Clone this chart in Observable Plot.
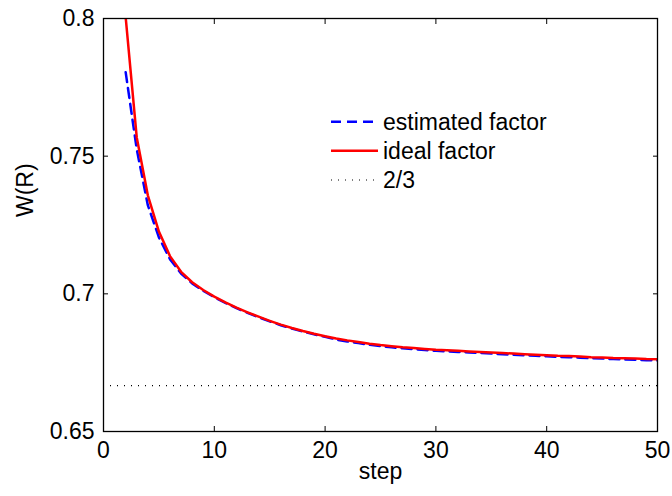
<!DOCTYPE html>
<html><head><meta charset="utf-8">
<script src="https://cdn.jsdelivr.net/npm/d3@7"></script>
<script src="https://cdn.jsdelivr.net/npm/@observablehq/plot@0.6"></script>
<style>
html,body{margin:0;padding:0;background:#fff;}
#chart{position:relative;width:672px;height:496px;}
</style></head><body><div id="chart"></div>
<script>
const steps = [2,3,4,5,6,7,8,9,10,11,12,13,14,15,16,17,18,19,20,21,22,23,24,25,26,27,28,29,30,31,32,33,34,35,36,37,38,39,40,41,42,43,44,45,46,47,48,49,50];
const idealFactor = [0.8005,0.7568,0.7358,0.7226,0.7137,0.7080,0.7042,0.7014,0.6990,0.6969,0.6950,0.6933,0.6917,0.6902,0.6888,0.6876,0.6865,0.6855,0.6846,0.6838,0.6831,0.6825,0.6819,0.6814,0.6810,0.6806,0.6803,0.6800,0.6797,0.6795,0.6793,0.6791,0.6789,0.6787,0.6785,0.6783,0.6781,0.6779,0.6777,0.6775,0.6774,0.6772,0.6770,0.6769,0.6767,0.6766,0.6765,0.6763,0.6762];
const estimatedFactor = [0.7805,0.7525,0.7322,0.7205,0.7126,0.7074,0.7038,0.7011,0.6988,0.6967,0.6948,0.6931,0.6915,0.6900,0.6886,0.6874,0.6863,0.6853,0.6844,0.6834,0.6827,0.6821,0.6815,0.6810,0.6806,0.6802,0.6799,0.6796,0.6793,0.6791,0.6789,0.6787,0.6785,0.6783,0.6781,0.6779,0.6777,0.6775,0.6773,0.6771,0.6770,0.6768,0.6766,0.6765,0.6763,0.6762,0.6761,0.6759,0.6758];
const twoThirds = [2/3];
const xTicks = [0,10,20,30,40,50];
const xTickLabels = ["0","10","20","30","40","50"];
const yTicks = [0.65,0.7,0.75,0.8];
const yTickLabels = ["0.65","0.7","0.75","0.8"];
const legendLabels = ["estimated factor","ideal factor","2/3"];
const xLabel = "step";
const yLabel = "W(R)";

const est = steps.map((s,i)=>({step:s, w:estimatedFactor[i]}));
const ideal = steps.map((s,i)=>({step:s, w:idealFactor[i]}));

const FONT = "'Liberation Sans', Arial, Helvetica, sans-serif";
const chart = Plot.plot({
  width:672, height:496, marginLeft:103, marginRight:15, marginTop:18, marginBottom:65,
  style:{fontFamily:FONT, fontSize:"23px", color:"black", background:"white", overflow:"visible"},
  x:{domain:[0,50]}, y:{domain:[0.65,0.8]},
  marks:[
    Plot.ruleY(twoThirds, {stroke:"black", strokeWidth:1.2, strokeDasharray:"1,6"}),
    Plot.line(est, {x:"step", y:"w", stroke:"#0000ff", strokeWidth:2.5, strokeDasharray:"10,6", clip:true}),
    Plot.line(ideal, {x:"step", y:"w", stroke:"#ff0000", strokeWidth:2.5, clip:true}),
    Plot.frame({stroke:"black", strokeWidth:1.3}),
    Plot.axisX(xTicks, {anchor:"bottom", tickSize:-5, tickPadding:15, label:null, tickFormat:d=>xTickLabels[xTicks.indexOf(d)]}),
    Plot.axisX(xTicks, {anchor:"top", tickSize:-5, label:null, tickFormat:()=>""}),
    Plot.axisY(yTicks, {anchor:"left", tickSize:-5, tickPadding:14, label:null, tickFormat:d=>yTickLabels[yTicks.indexOf(d)]}),
    Plot.axisY(yTicks, {anchor:"right", tickSize:-5, label:null, tickFormat:()=>""}),
    Plot.text([xLabel], {text:d=>d, frameAnchor:"bottom", dy:47}),
    Plot.text([yLabel], {text:d=>d, frameAnchor:"left", dx:-78, dy:-8, rotate:-90})
  ]
});
document.getElementById("chart").appendChild(chart);

// legend
const svg = d3.select(chart);
const lg = svg.append("g").attr("font-family", FONT).attr("font-size", 23).attr("fill","black").attr("text-anchor","start");
const rows = [
  {y:121.7, stroke:"#0000ff", w:2.5, dash:"10,6"},
  {y:150.7, stroke:"#ff0000", w:2.5, dash:null},
  {y:180, stroke:"black", w:1.2, dash:"1,6"}
];
rows.forEach((r,i)=>{
  lg.append("line").attr("x1",331).attr("x2",378).attr("y1",r.y).attr("y2",r.y)
    .attr("stroke",r.stroke).attr("stroke-width",r.w).attr("stroke-dasharray",r.dash);
  lg.append("text").attr("x",383).attr("y",r.y).attr("dy","0.35em").attr("text-anchor","start").text(legendLabels[i]);
});
</script>
</body></html>
